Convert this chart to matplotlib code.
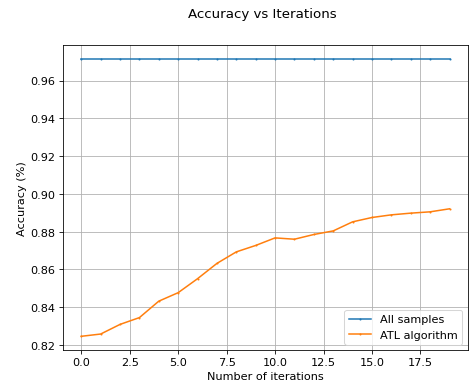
import numpy as np
import matplotlib
matplotlib.use("Agg")
import matplotlib.pyplot as plt

iterations = list(range(20))
all_samples = [0.9714] * 20
atl_algorithm = [0.8246, 0.8258, 0.8309, 0.8345, 0.8432, 0.8477, 0.8551, 0.8632,
                 0.8693, 0.8727, 0.8767, 0.8760, 0.8785, 0.8804, 0.8852, 0.8875,
                 0.8889, 0.8898, 0.8905, 0.8921]

plt.rcParams['font.size'] = 11
fig = plt.figure(figsize=(6.4, 5.32), dpi=469 / 6.4)
ax = fig.add_axes([0.134, 0.0996, 0.8637, 0.7824])

ax.plot(iterations, all_samples, marker='.', markersize=2, label='All samples')
ax.plot(iterations, atl_algorithm, marker='.', markersize=2, label='ATL algorithm')
ax.grid(True)
ax.set_xlabel('Number of iterations')
ax.set_ylabel('Accuracy (%)')
ax.legend(loc='lower right')
fig.suptitle('Accuracy vs Iterations', x=0.5586, fontsize=13.2)

fig.savefig('out.png', dpi=469 / 6.4)
